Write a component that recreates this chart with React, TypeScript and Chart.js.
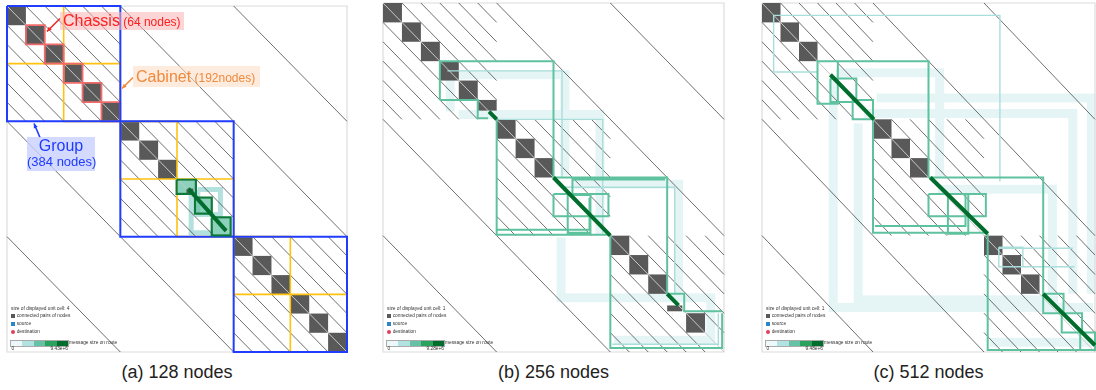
import React, { useEffect, useRef } from "react";
import { Chart, registerables } from "chart.js";
Chart.register(...registerables);

type Pt = [number, number];
type Poly = Pt[];
type Cell = [number, number, number, number];

// ---------- topology (chassis units along the matrix) ----------
const N = 18;
const CHASSIS = [0, 1, 2, 3, 4, 5, 6, 7, 8, 9, 10, 11, 12, 13, 14, 15, 16, 17];
const GROUP_STARTS = [0, 6, 12];
const GROUP_SIZE = 6;
const CABINET_STARTS = [0, 3, 6, 9, 12, 15];
const CABINET_SIZE = 3;
const INTRA_OFFSETS = [1, 2, 3, 4, 5];
const GLOBAL_OFFSETS = [6, 12];
const CHASSIS_HIGHLIGHT_A = [1, 2, 3, 4, 5];

// ---------- labels ----------
const CAPTIONS = ["(a) 128 nodes", "(b) 256 nodes", "(c) 512 nodes"];
const UNIT_CELL = ["4", "1", "1"];
const MSG_MAX = ["9.43e+6", "9.28e+6", "9.48e+6"];
const MSG_SCALE = ["#edf8fb", "#b2e2e2", "#66c2a4", "#2ca25f", "#006d2c"];

// ---------- connected chassis squares shown ----------
const SQUARES_A = [0, 1, 2, 3, 4, 5, 6, 7, 8, 12, 13, 14, 15, 16, 17];
const SQUARES_B = [0, 1, 2, 3, 4, 6, 7, 8, 12, 13, 14, 16];
const SQUARES_C = [0, 1, 2, 6, 7, 8, 12, 13, 14];
const PARTIAL_A: Cell[] = [[9.5, 9.5, 9.86, 9.78]];
const PARTIAL_B: Cell[] = [[5, 5, 6, 5.55], [15, 15.6, 15.8, 15.9]];
const PARTIAL_C: Cell[] = [];

const rect = (x0: number, y0: number, x1: number, y1: number): Poly => [
  [x0, y0], [x1, y0], [x1, y1], [x0, y1], [x0, y0],
];

// ---------- routes, panel (a) ----------
const A_BANDS: Poly[] = [rect(10.1, 9.55, 11.3, 10.85), [[9.75, 9.6], [9.75, 11.8], [10.9, 11.8]]];
const A_PALE: Poly[] = [];
const A_MID: Poly[] = [];
const A_STRONG: Poly[] = [rect(8.98, 9.04, 10.0, 9.77), rect(9.95, 9.97, 10.84, 10.8), rect(10.84, 11.0, 11.84, 11.93)];
const A_DARK: Poly[] = [[[9.6, 9.5], [11.6, 11.7]]];
const A_FILLS: Cell[] = [[9.05, 9.1, 9.95, 9.72], [10.0, 10.03, 10.8, 10.75], [10.9, 11.05, 11.8, 11.88]];

// ---------- routes, panel (b) ----------
const B_BANDS: Poly[] = [
  [[3.5, 3.7], [9.6, 3.7], [9.6, 8.9]],
  [[3.55, 3.7], [3.55, 5.6]],
  [[4.0, 5.75], [11.45, 5.75], [11.45, 11.9]],
  [[9.4, 12.1], [9.4, 15.2], [17.3, 15.2], [17.3, 17.4], [12.2, 17.4]],
  [[10.0, 9.35], [15.6, 9.35], [15.6, 15.0]],
];
const B_PALE: Poly[] = [
  [[3.4, 3.5], [9.45, 3.5], [9.45, 9.0]],
  [[9.5, 9.5], [15.4, 9.5], [15.4, 15.0]],
  [[6.1, 6.0], [11.6, 6.0], [11.6, 11.9]],
  [[12.1, 17.6], [17.7, 17.6], [17.7, 16.0]],
];
const B_MID: Poly[] = [
  [[3, 5], [3, 3], [9, 3], [9, 9]],
  [[3, 5], [5, 5], [5, 5.95], [5.55, 5.95]],
  [[6, 6], [6, 11.95], [12, 11.95]],
  [[6.05, 11.7], [10.9, 11.7], [10.9, 10.05]],
  [[9, 9], [15, 9], [15, 15]],
  [[10, 9.9], [10, 9.1], [14.9, 9.1]],
  rect(9, 9.85, 11.9, 11.0),
  rect(9.75, 9.9, 10.95, 11.85),
  [[12, 12], [12, 17.8], [17.9, 17.8], [17.9, 16]],
  [[15, 15], [15.9, 15], [15.9, 15.9], [17.9, 15.9]],
];
const B_STRONG: Poly[] = [];
const B_DARK: Poly[] = [[[5.6, 5.6], [6, 6]], [[9, 9], [12, 12]], [[15, 15], [15.6, 15.6]]];
const B_FILLS: Cell[] = [];

// ---------- routes, panel (c) ----------
const C_BANDS: Poly[] = [
  [[3.85, 3.9], [3.85, 15.7], [17.9, 15.7]],
  [[4.0, 3.6], [9.6, 3.6], [9.6, 9.0]],
  [[6.2, 4.9], [17.8, 4.9], [17.8, 15.0]],
  [[5.5, 5.7], [16.8, 5.7], [16.8, 15.0]],
  [[5.2, 6.2], [5.2, 15.3], [16.0, 15.3]],
  [[9.5, 9.6], [15.7, 9.6], [15.7, 15.0]],
  [[12.3, 17.5], [17.9, 17.5]],
];
const C_PALE: Poly[] = [
  [[3, 3.56], [0.63, 3.56], [0.63, 0.64], [12.86, 0.64], [12.86, 9.2]],
  rect(12.8, 12.6, 14.1, 13.6),
  [[12.8, 12.65], [16.8, 12.65]],
  [[14.0, 13.6], [16.9, 13.6]],
];
const C_MID: Poly[] = [
  [[3, 5], [3, 3], [9, 3], [9, 9]],
  rect(3, 3, 4.1, 5.2),
  rect(3.7, 3.9, 5.1, 5.1),
  rect(4.9, 5.0, 6.0, 6.0),
  [[6, 6], [6, 11.85], [12.2, 11.85]],
  [[6.1, 11.5], [11.0, 11.5], [11.0, 9.9]],
  [[9, 9], [15.2, 9], [15.2, 15]],
  rect(9, 9.85, 12.1, 11.0),
  rect(10.05, 9.85, 11.15, 11.9),
  [[12.2, 11.9], [12.2, 17.9], [18, 17.9]],
  rect(15.2, 15, 16.3, 16),
  rect(16.2, 16, 17.3, 17),
  rect(17.2, 17, 18, 17.9),
];
const C_STRONG: Poly[] = [];
const C_DARK: Poly[] = [[[3.7, 3.7], [6.05, 6]], [[9.1, 9], [12.2, 11.9]], [[15.2, 15], [18, 17.65]]];
const C_FILLS: Cell[] = [];

// ---------- layout ----------
interface PanelDef {
  x0: number; y0: number; x1: number; y1: number;
  squares: number[]; partial: Cell[];
  bands: Poly[]; pale: Poly[]; mid: Poly[]; strong: Poly[]; dark: Poly[]; fills: Cell[];
  bandWidth: number; bandColor: string;
  annotate: boolean;
}

const PANELS: PanelDef[] = [
  { x0: 7, y0: 5.5, x1: 347, y1: 352, squares: SQUARES_A, partial: PARTIAL_A, bands: A_BANDS, pale: A_PALE, mid: A_MID, strong: A_STRONG, dark: A_DARK, fills: A_FILLS, bandWidth: 5, bandColor: "rgba(160,218,214,0.8)", annotate: true },
  { x0: 383, y0: 3, x1: 724, y1: 352, squares: SQUARES_B, partial: PARTIAL_B, bands: B_BANDS, pale: B_PALE, mid: B_MID, strong: B_STRONG, dark: B_DARK, fills: B_FILLS, bandWidth: 9, bandColor: "rgba(190,230,232,0.4)", annotate: false },
  { x0: 762, y0: 3, x1: 1095, y1: 352, squares: SQUARES_C, partial: PARTIAL_C, bands: C_BANDS, pale: C_PALE, mid: C_MID, strong: C_STRONG, dark: C_DARK, fills: C_FILLS, bandWidth: 9, bandColor: "rgba(190,230,232,0.4)", annotate: false },
];

const PAD = 4;

function flat(polys: Poly[]) {
  const out: any[] = [];
  polys.forEach((p, i) => {
    if (i) out.push({ x: null, y: null });
    p.forEach(([x, y]) => out.push({ x, y }));
  });
  return out;
}

function ds(label: string, polys: Poly[], color: string, width: number, order: number) {
  return {
    label, data: flat(polys), borderColor: color, borderWidth: width,
    pointRadius: 0, pointHoverRadius: 0, fill: false, tension: 0, order,
    clip: false as any, spanGaps: false, borderCapStyle: "butt", borderJoinStyle: "miter",
  };
}

function buildHatch(): Poly[] {
  const lines: Poly[] = [];
  GROUP_STARTS.forEach((g) =>
    INTRA_OFFSETS.forEach((k) => {
      lines.push([[g + k, g], [g + GROUP_SIZE, g + GROUP_SIZE - k]]);
      lines.push([[g, g + k], [g + GROUP_SIZE - k, g + GROUP_SIZE]]);
    })
  );
  GLOBAL_OFFSETS.forEach((k) => {
    lines.push([[k, 0], [N, N - k]]);
    lines.push([[0, k], [N - k, N]]);
  });
  return lines;
}

function PanelChart({ p, idx }: { p: PanelDef; idx: number }) {
  const ref = useRef<HTMLCanvasElement | null>(null);
  useEffect(() => {
    const canvas = ref.current!;
    const squareCells: Cell[] = CHASSIS.filter((c) => p.squares.includes(c)).map((c) => [c, c, c + 1, c + 1]);
    const layers: Record<string, { cells: Cell[]; color: string }[]> = {
      hatch: [{ cells: squareCells.concat(p.partial), color: "#595959" }],
      bands: [{ cells: p.fills, color: "rgba(102,194,164,0.75)" }],
    };
    const datasets: any[] = [
      ds("bands", p.bands, p.bandColor, p.bandWidth, 20),
      ds("frame", [rect(0, 0, N, N)], "#dcdcdc", 1.2, 19),
      ds("hatch", buildHatch(), "#4a4a4a", 0.8, 18),
      ds("diag", [[[0, 0], [N, N]]], "#c8c8c8", 1, 17),
    ];
    if (p.annotate) {
      datasets.push(ds("cabinets", CABINET_STARTS.map((c) => rect(c, c, c + CABINET_SIZE, c + CABINET_SIZE)), "#ffc20e", 1.6, 16));
      datasets.push(ds("chassis", CHASSIS_HIGHLIGHT_A.map((c) => rect(c, c, c + 1, c + 1)), "#f26b6b", 1.8, 15));
      datasets.push(ds("groups", GROUP_STARTS.map((g) => rect(g, g, g + GROUP_SIZE, g + GROUP_SIZE)), "#1f3cff", 2, 14));
    }
    datasets.push(ds("pale", p.pale, "#a9dedb", 1.4, 12));
    datasets.push(ds("mid", p.mid, "#5fc29f", 2, 11));
    datasets.push(ds("strong", p.strong, "#0b7a3a", 2.2, 10));
    datasets.push(ds("dark", p.dark, "#006d2c", 4, 9));

    const offX = p.x0 - PAD, offY = p.y0 - PAD;
    const plugin = {
      id: "cells" + idx,
      afterDatasetDraw(chart: any, args: any) {
        const lbl = chart.data.datasets[args.index].label;
        const ls = layers[lbl];
        if (!ls) return;
        const xs = chart.scales.x, ys = chart.scales.y, ctx = chart.ctx;
        ctx.save();
        ls.forEach((l) => {
          ctx.fillStyle = l.color;
          l.cells.forEach(([a, b, c, d]) => {
            const X0 = xs.getPixelForValue(a), X1 = xs.getPixelForValue(c);
            const Y0 = ys.getPixelForValue(b), Y1 = ys.getPixelForValue(d);
            ctx.fillRect(Math.min(X0, X1), Math.min(Y0, Y1), Math.abs(X1 - X0), Math.abs(Y1 - Y0));
          });
        });
        ctx.restore();
      },
      afterDraw(chart: any) {
        if (!p.annotate) return;
        const ctx = chart.ctx;
        const arrow = (x0: number, y0: number, x1: number, y1: number, col: string) => {
          const ax0 = x0 - offX, ay0 = y0 - offY, ax1 = x1 - offX, ay1 = y1 - offY;
          ctx.save();
          ctx.strokeStyle = col; ctx.fillStyle = col; ctx.lineWidth = 1.6;
          ctx.beginPath(); ctx.moveTo(ax0, ay0); ctx.lineTo(ax1, ay1); ctx.stroke();
          const ang = Math.atan2(ay1 - ay0, ax1 - ax0), L = 5, W = 0.45;
          ctx.beginPath();
          ctx.moveTo(ax1, ay1);
          ctx.lineTo(ax1 - L * Math.cos(ang - W), ay1 - L * Math.sin(ang - W));
          ctx.lineTo(ax1 - L * Math.cos(ang + W), ay1 - L * Math.sin(ang + W));
          ctx.closePath(); ctx.fill();
          ctx.restore();
        };
        arrow(60, 18, 47, 31, "#ee2a2a");
        arrow(133, 77, 122, 88, "#f08a3c");
        arrow(40, 137, 34, 123, "#1f3cff");
      },
    };

    const chart = new Chart(canvas, {
      type: "line",
      data: { datasets },
      options: {
        animation: false,
        responsive: false,
        events: [],
        layout: { padding: PAD },
        plugins: { legend: { display: false }, tooltip: { enabled: false } },
        scales: {
          x: { type: "linear", min: 0, max: N, display: false },
          y: { type: "linear", min: 0, max: N, reverse: true, display: false },
        },
      },
      plugins: [plugin],
    } as any);
    return () => chart.destroy();
  }, [p, idx]);
  const w = p.x1 - p.x0 + 2 * PAD, h = p.y1 - p.y0 + 2 * PAD;
  return (
    <canvas ref={ref} width={w} height={h}
      style={{ position: "absolute", left: p.x0 - PAD, top: p.y0 - PAD, width: w, height: h }} />
  );
}

const tiny: React.CSSProperties = { position: "absolute", fontFamily: "'Liberation Sans', Arial, sans-serif", fontSize: 4.8, color: "#333", whiteSpace: "nowrap", lineHeight: "6px" };

function Legend({ p, idx }: { p: PanelDef; idx: number }) {
  const L = p.x0 + 4;
  return (
    <>
      <div style={{ ...tiny, left: L, top: 306.3 }}>size of displayed unit cell: {UNIT_CELL[idx]}</div>
      <div style={{ position: "absolute", left: L, top: 314, width: 4.3, height: 4.3, background: "#595959" }} />
      <div style={{ ...tiny, left: L + 5.7, top: 313 }}>connected pairs of nodes</div>
      <div style={{ position: "absolute", left: L, top: 321.7, width: 4.3, height: 4.3, background: "#2d86c4" }} />
      <div style={{ ...tiny, left: L + 5.7, top: 321 }}>source</div>
      <div style={{ position: "absolute", left: L, top: 330, width: 4.3, height: 4.3, borderRadius: "50%", background: "#e0405a" }} />
      <div style={{ ...tiny, left: L + 5.7, top: 329.3 }}>destination</div>
      <div style={{ position: "absolute", left: L, top: 340.7, height: 5, display: "flex", outline: "0.5px solid #aaa" }}>
        {MSG_SCALE.map((c, i) => (
          <div key={i} style={{ width: 11.4, height: 5, background: c }} />
        ))}
      </div>
      <div style={{ ...tiny, left: L + 58, top: 340.2 }}>message size on route</div>
      <div style={{ ...tiny, left: L + 0.5, top: 345.5 }}>0</div>
      <div style={{ ...tiny, left: L + 37, top: 345.5, width: 20, textAlign: "right" }}>{MSG_MAX[idx]}</div>
    </>
  );
}

const ann: React.CSSProperties = { position: "absolute", fontFamily: "'Liberation Sans', Arial, sans-serif", whiteSpace: "nowrap" };

export default function App() {
  return (
    <div style={{ position: "fixed", left: 0, top: 0, width: 1096, height: 390, overflow: "hidden", background: "#fff" }}>
      {PANELS.map((p, i) => (
        <PanelChart key={i} p={p} idx={i} />
      ))}
      {PANELS.map((p, i) => (
        <Legend key={"l" + i} p={p} idx={i} />
      ))}
      {PANELS.map((p, i) => (
        <div key={"c" + i} style={{ ...ann, left: (p.x0 + p.x1) / 2 - 100, width: 200, top: 362, textAlign: "center", fontSize: 18, color: "#222" }}>
          {CAPTIONS[i]}
        </div>
      ))}
      <div style={{ ...ann, left: 60, top: 12, width: 124, height: 18, background: "rgba(250,180,180,0.55)", color: "#ff2020", lineHeight: "18px" }}>
        <span style={{ fontSize: 16, marginLeft: 3 }}>Chassis</span>
        <span style={{ fontSize: 12 }}> (64 nodes)</span>
      </div>
      <div style={{ ...ann, left: 133, top: 66, width: 127, height: 21, background: "rgba(252,222,200,0.6)", color: "#f08a3c", lineHeight: "21px" }}>
        <span style={{ fontSize: 16, marginLeft: 3 }}>Cabinet</span>
        <span style={{ fontSize: 12 }}> (192nodes)</span>
      </div>
      <div style={{ ...ann, left: 27, top: 137, width: 68, height: 34, background: "rgba(200,208,255,0.8)", color: "#1f3cff", textAlign: "center" }}>
        <div style={{ fontSize: 16, lineHeight: "17px" }}>Group</div>
        <div style={{ fontSize: 13, lineHeight: "15px" }}>(384 nodes)</div>
      </div>
    </div>
  );
}
